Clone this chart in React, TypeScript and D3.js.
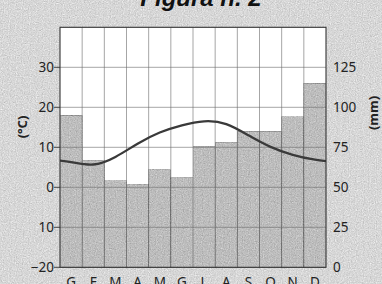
import React from "react";
import * as d3 from "d3";

const months = ["G", "F", "M", "A", "M", "G", "L", "A", "S", "O", "N", "D"];
const precipitation = [95, 67, 54, 52, 61, 56, 75.5, 78, 85, 85, 94, 115];
const temperature = [6.3, 5.7, 7.6, 10.9, 13.7, 15.5, 16.5, 15.8, 13.0, 10.1, 8.1, 6.9];
const tempTicks = [-20, -10, 0, 10, 20, 30];
const tempTickLabels = ["−20", "10", "0", "10", "20", "30"];
const rainTicks = [0, 25, 50, 75, 100, 125];
const gridTemps = [-10, 0, 10, 20, 30];

const W = 382;
const H = 284;
const left = 60;
const right = 326;
const top = 27.3;
const bottom = 267.3;
const FONT = "'Noto Sans', 'Open Sans', sans-serif";

export default function App() {
  const x = d3.scaleBand<number>().domain(d3.range(12)).range([left, right]).padding(0);
  const yT = d3.scaleLinear().domain([-20, 40]).range([bottom, top]);
  const yP = d3.scaleLinear().domain([0, 150]).range([bottom, top]);
  const step = x.step();
  const cx = (i: number) => (x(i) as number) + step / 2;

  const pts: [number, number][] = [];
  pts.push([cx(0) - step, yT(temperature[11])]);
  temperature.forEach((t, i) => pts.push([cx(i), yT(t)]));
  pts.push([cx(11) + step, yT(temperature[0])]);
  const line = d3.line().curve(d3.curveNatural)(pts) || "";

  return (
    <svg
      width={W}
      height={H}
      style={{ position: "absolute", left: 0, top: 0 }}
      xmlns="http://www.w3.org/2000/svg"
    >
      <defs>
        <filter id="grain" x="0" y="0" width="1" height="1" colorInterpolationFilters="sRGB">
          <feTurbulence type="fractalNoise" baseFrequency="0.85" numOctaves={2} seed={3} result="n" />
          <feColorMatrix
            in="n"
            type="matrix"
            values="0.33 0.33 0.33 0 0  0.33 0.33 0.33 0 0  0.33 0.33 0.33 0 0  0 0 0 0 1"
            result="g"
          />
          <feComposite in="SourceGraphic" in2="g" operator="arithmetic" k1={0} k2={1} k3={0.45} k4={-0.225} />
        </filter>
        <clipPath id="plotclip">
          <rect x={left} y={top} width={right - left} height={bottom - top} />
        </clipPath>
      </defs>
      <rect x={0} y={0} width={W} height={H} fill="#d7d7d7" filter="url(#grain)" />
      <text
        x={201}
        y={6}
        textAnchor="middle"
        fontFamily="'Liberation Sans', Arial, sans-serif"
        fontStyle="italic"
        fontWeight="bold"
        fontSize={24}
        fill="#111"
      >
        Figura n. 2
      </text>
      <rect x={left} y={top} width={right - left} height={bottom - top} fill="#ffffff" />
      {precipitation.map((p, i) => (
        <rect
          key={i}
          x={x(i)}
          y={yP(p)}
          width={step}
          height={bottom - yP(p)}
          fill="#bdbdbd"
          filter="url(#grain)"
        />
      ))}
      {gridTemps.map((t) => (
        <line key={"h" + t} x1={left} x2={right} y1={yT(t)} y2={yT(t)} stroke="#6a6a6a" strokeWidth={0.6} />
      ))}
      {d3.range(1, 12).map((i) => (
        <line key={"v" + i} x1={x(i)} x2={x(i)} y1={top} y2={bottom} stroke="#6a6a6a" strokeWidth={0.6} />
      ))}
      <path d={line} fill="none" stroke="#3a3a3a" strokeWidth={2.3} clipPath="url(#plotclip)" />
      <rect x={left} y={top} width={right - left} height={bottom - top} fill="none" stroke="#333" strokeWidth={1.1} />
      {tempTicks.map((t, i) => (
        <g key={"lt" + t}>
          <line x1={left - 6} x2={left} y1={yT(t)} y2={yT(t)} stroke="#333" strokeWidth={0.9} />
          <text
            x={left - 6}
            y={yT(t)}
            dy="0.36em"
            textAnchor="end"
            fontFamily={FONT}
            fontSize={13.5}
            fill="#222"
          >
            {tempTickLabels[i]}
          </text>
        </g>
      ))}
      {rainTicks.map((p) => (
        <text
          key={"rt" + p}
          x={right + 7}
          y={yP(p)}
          dy="0.36em"
          textAnchor="start"
          fontFamily={FONT}
          fontSize={13.5}
          fill="#222"
        >
          {p}
        </text>
      ))}
      {months.map((m, i) => (
        <text
          key={"m" + i}
          x={cx(i)}
          y={286.5}
          textAnchor="middle"
          fontFamily={FONT}
          fontSize={13.5}
          fill="#222"
        >
          {m}
        </text>
      ))}
      <text
        transform={`translate(27,127) rotate(-90)`}
        textAnchor="middle"
        fontFamily={FONT}
        fontWeight="bold"
        fontSize={13}
        fill="#222"
      >
        (°C)
      </text>
      <text
        transform={`translate(378,113) rotate(-90)`}
        textAnchor="middle"
        fontFamily={FONT}
        fontWeight="bold"
        fontSize={13}
        fill="#222"
      >
        (mm)
      </text>
    </svg>
  );
}
